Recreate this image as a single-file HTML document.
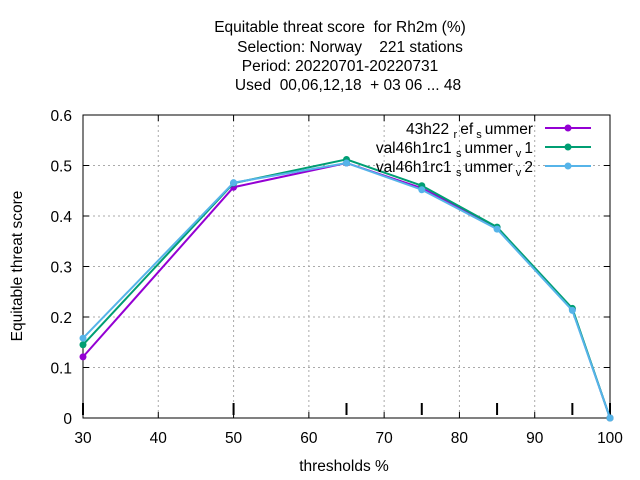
<!DOCTYPE html>
<html><head><meta charset="utf-8"><style>
body{margin:0;background:#fff}
svg{display:block;font-family:"Liberation Sans",sans-serif}
text{white-space:pre}
</style></head><body>
<svg id="chart" width="640" height="480">
<g font-size="15.5" text-anchor="middle" fill="#000">
<text x="340" y="32">Equitable threat score  for Rh2m (%)</text>
<text x="350" y="52">Selection: Norway    221 stations</text>
<text x="340" y="71">Period: 20220701-20220731</text>
<text x="348" y="90">Used  00,06,12,18  + 03 06 ... 48</text>
</g>
<g id="grid"></g>
<g id="axes"></g>
<g id="series"></g>
<text x="344" y="471" font-size="15.5" text-anchor="middle">thresholds %</text>
<text transform="translate(22,266) rotate(-90)" font-size="15.5" text-anchor="middle">Equitable threat score</text>
<g id="legend" font-size="15.5"></g>
</svg>
<script>
const xTicks=[30,40,50,60,70,80,90,100];
const yTicks=[0,0.1,0.2,0.3,0.4,0.5,0.6];
const thresholds=[30,50,65,75,85,95,100];
const seriesNames=["43h22 ref_summer","val46h1rc1_summer_v1","val46h1rc1_summer_v2"];
const s1=[0.121,0.457,0.505,0.455,0.377,0.215,0.0];
const s2=[0.145,0.465,0.512,0.46,0.378,0.217,0.0];
const s3=[0.158,0.466,0.505,0.452,0.374,0.213,0.0];
const colors=["#9400d3","#009e73","#56b4e9"];
const L=83,R=610,T=115,B=418;
const sx=v=>L+(v-30)/70*(R-L);
const sy=v=>B-v/0.6*(B-T);
const NS="http://www.w3.org/2000/svg";
function mk(tag,attrs,parent){const e=document.createElementNS(NS,tag);for(const k in attrs)e.setAttribute(k,attrs[k]);parent.appendChild(e);return e;}
const grid=document.getElementById('grid'),axes=document.getElementById('axes'),ser=document.getElementById('series'),leg=document.getElementById('legend');
yTicks.forEach(v=>{
 if(v>0&&v<0.6){const g=mk('line',{x1:L,x2:R,y1:sy(v),y2:sy(v),stroke:'#aaa','stroke-dasharray':'2,3','stroke-width':1},grid);
 }
 const t=mk('text',{x:L-11,y:sy(v)+6,'font-size':15.5,'text-anchor':'end'},axes);t.textContent=v===0?'0':v.toFixed(1);
 
 mk('line',{x1:L,x2:L+6,y1:sy(v),y2:sy(v),stroke:'#000'},axes);mk('line',{x1:R,x2:R-6,y1:sy(v),y2:sy(v),stroke:'#000'},axes);
});
xTicks.forEach(v=>{
 if(v>30&&v<100){const g=mk('line',{x1:sx(v),x2:sx(v),y1:T,y2:B,stroke:'#aaa','stroke-dasharray':'2,3','stroke-width':1},grid);
 }
 const t=mk('text',{x:sx(v),y:B+25,'font-size':15.5,'text-anchor':'middle'},axes);t.textContent=v;
 
 mk('line',{x1:sx(v),x2:sx(v),y1:B,y2:B-6,stroke:'#000'},axes);mk('line',{x1:sx(v),x2:sx(v),y1:T,y2:T+6,stroke:'#000'},axes);
});
thresholds.forEach(v=>{mk('line',{x1:sx(v),x2:sx(v),y1:B-3,y2:B-15,stroke:'#000','stroke-width':2},axes);});
const fr=mk('rect',{x:L,y:T,width:R-L,height:B-T,fill:'none',stroke:'#000'},axes);

const labels=[["43h22 ","r","ef","s","ummer"],["val46h1rc1 ","s","ummer","v","1"],["val46h1rc1 ","s","ummer","v","2"]];
[s1,s2,s3].forEach((d,i)=>{
 const g=mk('g',{},ser);
 mk('polyline',{points:d.map((v,j)=>sx(thresholds[j])+','+sy(v)).join(' '),fill:'none',stroke:colors[i],'stroke-width':2},g);
 d.forEach((v,j)=>{const c=mk('circle',{cx:sx(thresholds[j]),cy:sy(v),r:3.5,fill:colors[i]},g);
 });
 const y=128+i*19;
 const lg=mk('g',{},leg);
 const t=mk('text',{x:533,y:y+6,'text-anchor':'end'},lg);
 const p=labels[i];
 const a=mk('tspan',{},t);a.textContent=p[0];
 const b=mk('tspan',{'font-size':11,dy:4},t);b.textContent=p[1]+' ';
 const c2=mk('tspan',{dy:-4},t);c2.textContent=p[2];
 const d2=mk('tspan',{'font-size':11,dy:4},t);d2.textContent=' '+p[3]+' ';
 const e=mk('tspan',{dy:-4},t);e.textContent=p[4];
 mk('line',{x1:545,x2:591,y1:y,y2:y,stroke:colors[i],'stroke-width':2},lg);
 mk('circle',{cx:568,cy:y,r:3.5,fill:colors[i]},lg);
});
</script>
</body></html>
